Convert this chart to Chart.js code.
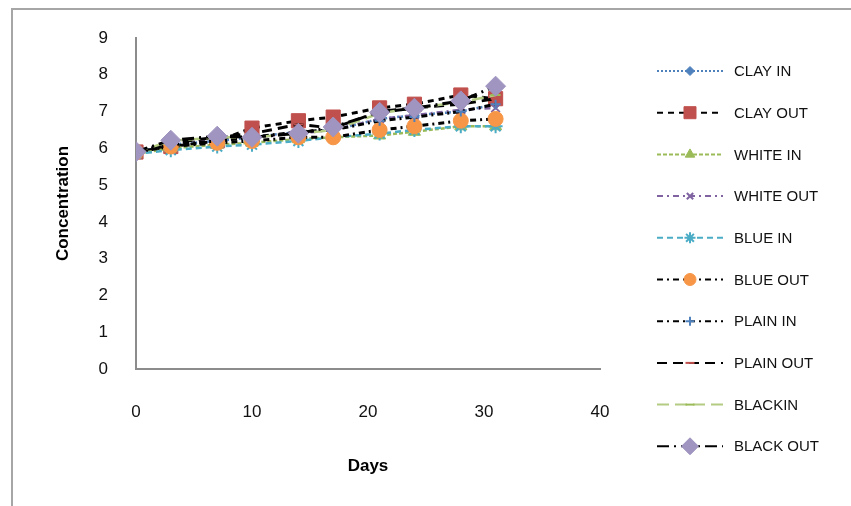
<!DOCTYPE html>
<html>
<head>
<meta charset="utf-8">
<script src="https://cdn.jsdelivr.net/npm/chart.js@4/dist/chart.umd.min.js"></script>
<style>
  html, body { margin: 0; padding: 0; background: #fff; }
  #wrap { position: relative; width: 851px; height: 506px; }
  #frame { position: absolute; left: 11px; top: 8px; width: 860px; height: 520px; border: 2px solid #a6a6a6; box-sizing: border-box; }
  canvas { position: absolute; left: 0; top: 0; }
</style>
</head>
<body>
<div id="wrap">
  <div id="frame"></div>
  <canvas id="lineChart" width="851" height="506"></canvas>
</div>
<script>
const FONT = "'Liberation Sans Narrow', 'Liberation Sans', 'Noto Sans', sans-serif";

const days = [0, 3, 7, 10, 14, 17, 21, 24, 28, 31];
const seriesNames = ['CLAY IN', 'CLAY OUT', 'WHITE IN', 'WHITE OUT', 'BLUE IN',
                     'BLUE OUT', 'PLAIN IN', 'PLAIN OUT', 'BLACKIN', 'BLACK OUT'];

const clayIn   = [5.9, 6.1, 6.2, 6.3, 6.45, 6.5, 6.8, 6.9, 7.0, 7.2];
const clayOut  = [5.9, 6.05, 6.2, 6.55, 6.75, 6.85, 7.1, 7.2, 7.45, 7.35];
const whiteIn  = [5.85, 6.0, 6.1, 6.15, 6.25, 6.3, 6.35, 6.45, 6.6, 6.6];
const whiteOut = [5.9, 6.15, 6.25, 6.3, 6.4, 6.5, 6.8, 6.9, 7.05, 7.1];
const blueIn   = [5.85, 5.95, 6.05, 6.1, 6.2, 6.3, 6.4, 6.5, 6.6, 6.6];
const blueOut  = [5.9, 6.05, 6.15, 6.2, 6.3, 6.3, 6.5, 6.6, 6.75, 6.8];
const plainIn  = [5.9, 6.1, 6.2, 6.3, 6.45, 6.5, 6.75, 6.85, 7.0, 7.2];
const plainOut = [5.9, 6.15, 6.3, 6.4, 6.65, 6.55, 7.0, 7.1, 7.2, 7.35];
const blackIn  = [5.9, 6.2, 6.3, 6.3, 6.4, 6.5, 6.95, 7.1, 7.25, 7.45];
const blackOut = [5.91, 6.22, 6.33, 6.3, 6.41, 6.58, 6.98, 7.09, 7.29, 7.69];

const allValues = [clayIn, clayOut, whiteIn, whiteOut, blueIn, blueOut, plainIn, plainOut, blackIn, blackOut];

// line colour, dash, marker style, marker colour, marker radius
const styles = [
  { line: '#4f81bd', dash: [2, 2],          point: 'rectRot',  pc: '#4f81bd', r: 5 },
  { line: '#000000', dash: [6, 5],          point: 'rect',     pc: '#c0504d', r: 10 },
  { line: '#9bbb59', dash: [4, 2],          point: 'triangle', pc: '#9bbb59', r: 7 },
  { line: '#8064a2', dash: [6, 4, 2, 4],    point: 'crossRot', pc: '#8064a2', r: 6 },
  { line: '#4bacc6', dash: [6, 4],          point: 'star',     pc: '#4bacc6', r: 7 },
  { line: '#000000', dash: [6, 4, 2, 4],    point: 'circle',   pc: '#f79646', r: 7.5 },
  { line: '#000000', dash: [6, 4, 2, 4],    point: 'cross',    pc: '#4f81bd', r: 5 },
  { line: '#000000', dash: [10, 6],         point: 'line',     pc: '#c0504d', r: 5 },
  { line: '#b3cc82', dash: [12, 6],         point: 'line',     pc: '#9bbb59', r: 5 },
  { line: '#000000', dash: [12, 5, 2, 5],   point: 'rectRot',  pc: '#a094c0', r: 10 }
];

const datasets = seriesNames.map((name, i) => ({
  label: name,
  data: days.map((d, k) => ({ x: d, y: allValues[i][k] })),
  borderColor: styles[i].line,
  borderDash: styles[i].dash,
  borderWidth: styles[i].line === '#000000' ? 3 : 2.5,
  pointStyle: styles[i].point,
  pointRadius: styles[i].r,
  pointBackgroundColor: styles[i].pc,
  pointBorderColor: styles[i].pc,
  pointBorderWidth: (styles[i].point === 'cross' || styles[i].point === 'crossRot' || styles[i].point === 'star' || styles[i].point === 'line') ? 2 : 1,
  fill: false,
  tension: 0,
  order: seriesNames.length - i   // later series drawn on top, like the original
}));

// legend on the right: dashed sample line with the marker in the middle
const sideLegend = {
  id: 'sideLegend',
  afterDraw(chart) {
    const ctx = chart.ctx;
    const x0 = 657, x1 = 723, tx = 734;
    const yTop = 71, step = 41.7;
    ctx.save();
    datasets.forEach((ds, i) => {
      const y = yTop + i * step;
      ctx.setLineDash(ds.borderDash);
      ctx.strokeStyle = ds.borderColor;
      ctx.lineWidth = 2;
      ctx.beginPath();
      ctx.moveTo(x0, y);
      ctx.lineTo(x1, y);
      ctx.stroke();
      ctx.setLineDash([]);
      ctx.fillStyle = ds.pointBackgroundColor;
      ctx.strokeStyle = ds.pointBorderColor;
      ctx.lineWidth = ds.pointBorderWidth;
      Chart.helpers.drawPoint(ctx, {
        pointStyle: ds.pointStyle, rotation: 0,
        radius: Math.max(4.5, ds.pointRadius - 1.5), borderWidth: ds.pointBorderWidth
      }, (x0 + x1) / 2, y);
      ctx.fillStyle = '#111';
      ctx.font = '15px ' + FONT;
      ctx.textBaseline = 'middle';
      ctx.textAlign = 'left';
      ctx.fillText(ds.label, tx, y + 1);
    });
    ctx.restore();
  }
};

const ctx1 = document.getElementById('lineChart').getContext('2d');
new Chart(ctx1, {
  type: 'line',
  data: { datasets: datasets },
  options: {
    responsive: false,
    animation: false,
    layout: { padding: { left: 14, top: 38, right: 251, bottom: 0 } },
    plugins: {
      legend: { display: false },
      tooltip: { enabled: false }
    },
    scales: {
      x: {
        type: 'linear',
        min: 0, max: 40,
        ticks: { stepSize: 10, color: '#111', padding: 25, font: { size: 17, family: FONT } },
        grid: { display: false },
        border: { display: true, color: '#8c8c8c', width: 2 },
        title: { display: true, text: 'Days', color: '#000', font: { size: 17, weight: 'bold', family: FONT }, padding: { top: 0, bottom: 29 } },
        afterFit(scale) { scale.height = 137; }
      },
      y: {
        min: 0, max: 9,
        ticks: { stepSize: 1, color: '#111', padding: 20, font: { size: 17, family: FONT } },
        grid: { display: false },
        border: { display: true, color: '#8c8c8c', width: 2 },
        title: { display: true, text: 'Concentration', color: '#000', font: { size: 17, weight: 'bold', family: FONT }, padding: { top: 39, bottom: 0 } },
        afterFit(scale) { scale.width = 122; }
      }
    }
  },
  plugins: [sideLegend]
});
</script>
</body>
</html>
